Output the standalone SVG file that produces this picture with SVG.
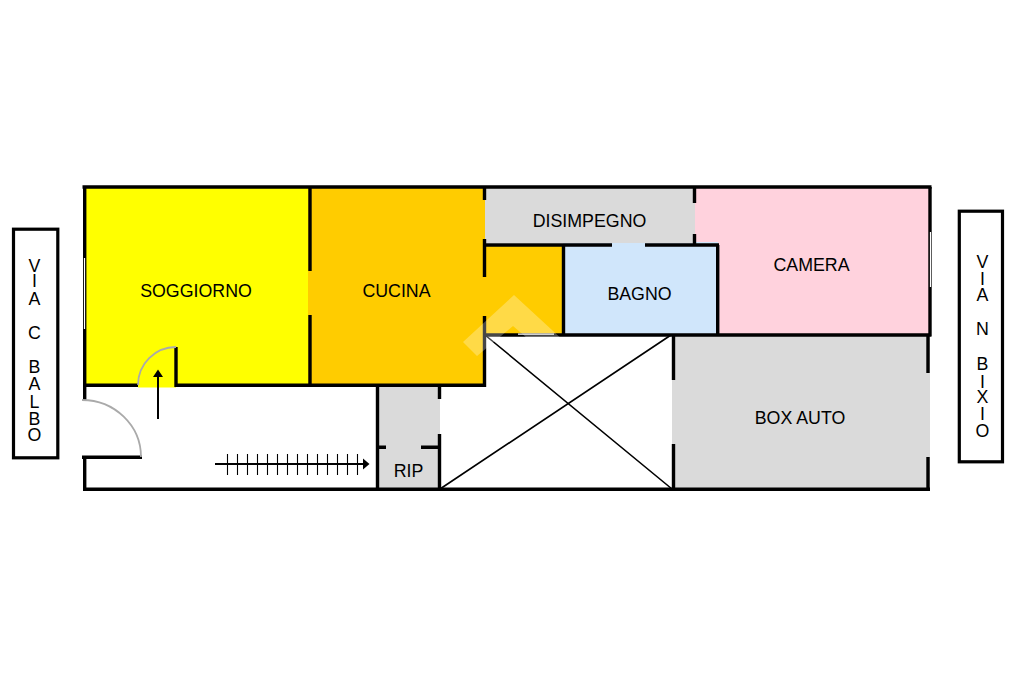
<svg xmlns="http://www.w3.org/2000/svg" width="1024" height="682" viewBox="0 0 1024 682">
<style>
.w{stroke:#000;stroke-width:3.4;fill:none;stroke-linecap:butt}
.x{stroke:#000;stroke-width:1.6;fill:none}
.d{stroke:#aaa;stroke-width:1.8;fill:none}
.t{stroke:#000;stroke-width:1.1}
.l{font-family:"Liberation Sans",Arial,sans-serif;font-size:17.8px;fill:#000;text-anchor:middle}
</style>
<rect width="1024" height="682" fill="#fff"/>
<g id="fills">
<rect x="84" y="187" width="226" height="198" fill="#ffff00"/>
<rect x="138" y="385" width="38" height="2.5" fill="#ffff00"/>
<rect x="308" y="187" width="177" height="198" fill="#ffcc00"/>
<rect x="485" y="245" width="78" height="90" fill="#ffcc00"/>
<rect x="695" y="187" width="235" height="148" fill="#ffd2dd"/>
<rect x="563" y="242" width="155" height="93" fill="#d0e6fb"/>
<rect x="485" y="187" width="210" height="56" fill="#dadada"/>
<rect x="378" y="385" width="62" height="104" fill="#dadada"/>
<rect x="672" y="335" width="258" height="154" fill="#dadada"/>
</g>
<g id="walls">
<path class="w" d="M82.500 187H931.500M84.700 187V385M84.700 385V400M82 457.300H142M84.700 457.300V489M83 489.300H930"/>
<path class="w" d="M83 385.300H138M176 385.300H485.500M176 347V387"/>
<path class="w" d="M310 187V271M310 315V385"/>
<path class="w" d="M484.500 187V200M484.500 239V277M484.500 316V387"/>
<path class="w" d="M485 245H612M645 245H719M563.500 245V335M717.700 245V336M694.500 187V203M694.500 234V245"/>
<path class="w" d="M485 335H931.500M930 187V336M928 335V373M928 457V489"/>
<path class="w" d="M673.500 335V380M673.500 444V489"/>
<path class="w" d="M377.500 385V489M439.500 385V399M439.500 434V489M377 447.300H386M421 447.300H440"/>
<path d="M84.500 258V329M930.500 232V287" stroke="#fff" stroke-width="1.200" fill="none"/>
<path d="M518 334.200H554" stroke="#fff" stroke-width="1.200" fill="none"/>
</g>
<g id="void-cross">
<path class="x" d="M485 335L672 489M440 489L671 335"/>
</g>
<g id="doors">
<path class="d" d="M82 400A59 57 0 0 1 141 457"/>
<path class="d" d="M138 385A38 38 0 0 1 176 347"/>
</g>
<g id="entry-arrow">
<path d="M158 419V376" stroke="#000" stroke-width="2"/>
<polygon points="158,369.500 163,377 153,377" fill="#000"/>
</g>
<g id="stairs">
<path d="M215 464H365" stroke="#000" stroke-width="2"/>
<polygon points="369.500,464 363,458.500 363,469.500" fill="#000"/>
<path class="t" d="M227.500 454V475M237.500 454V475M247.500 454V475M257.500 454V475M267.500 454V475M277.500 454V475M287.500 454V475M297.500 454V475M307.500 454V475M317.500 454V475M327.500 454V475M337.500 454V475M347.500 454V475M357.500 454V475"/>
</g>
<g id="labels">
<text class="l" x="196" y="296.500">SOGGIORNO</text>
<text class="l" x="396.500" y="296.500">CUCINA</text>
<text class="l" x="589.500" y="226.500">DISIMPEGNO</text>
<text class="l" x="639.500" y="299.500">BAGNO</text>
<text class="l" x="811.500" y="270.500">CAMERA</text>
<text class="l" x="800" y="423.500">BOX AUTO</text>
<text class="l" x="408.500" y="477">RIP</text>
</g>
<g id="via-balbo">
<rect x="13.500" y="229.200" width="44.300" height="228.600" fill="#fff" stroke="#000" stroke-width="3.200"/>
<text class="l"><tspan x="34.500" y="271.500">V</tspan><tspan x="34.500" y="287">I</tspan><tspan x="34.500" y="305">A</tspan><tspan x="34.500" y="339">C</tspan><tspan x="34.500" y="372.500">B</tspan><tspan x="34.500" y="390">A</tspan><tspan x="34.500" y="407.500">L</tspan><tspan x="34.500" y="425">B</tspan><tspan x="34.500" y="440.500">O</tspan></text>
</g>
<g id="via-bixio">
<rect x="959.300" y="211.200" width="43.200" height="250.600" fill="#fff" stroke="#000" stroke-width="3.200"/>
<text class="l"><tspan x="982.500" y="268">V</tspan><tspan x="982.500" y="285">I</tspan><tspan x="982.500" y="300.500">A</tspan><tspan x="982.500" y="335">N</tspan><tspan x="982.500" y="370">B</tspan><tspan x="982.500" y="387.500">I</tspan><tspan x="982.500" y="402.500">X</tspan><tspan x="982.500" y="420">I</tspan><tspan x="982.500" y="436.500">O</tspan></text>
</g>
<polygon id="watermark" points="514,295 565,342 549,357 513,326 477,356 463,342" fill="#fff" fill-opacity=".28"/>
</svg>
